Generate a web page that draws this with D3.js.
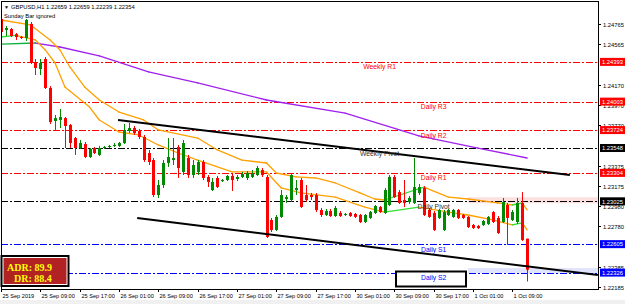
<!DOCTYPE html>
<html><head><meta charset="utf-8">
<script src="https://cdn.jsdelivr.net/npm/d3@7"></script>
<style>
body{margin:0;background:#fff;overflow:hidden}
svg{display:block;font-family:"Liberation Sans",Arial,sans-serif}
</style></head><body><div id="chart"></div>
<script>
'use strict'

// hourly bars, GBPUSD H1, 25 Sep 01:00 .. 1 Oct 12:00
const opens = [1.24814,1.24706,1.24716,1.24666,1.24637,1.24627,1.24765,1.24392,1.24323,1.24421,
1.24137,1.23813,1.23823,1.23842,1.23774,1.23646,1.23548,1.23587,1.23460,1.23548,
1.23480,1.23548,1.23558,1.23568,1.23568,1.23597,1.23715,1.23744,1.23715,1.23656,
1.23499,1.23430,1.23087,1.23185,1.23401,1.23430,1.23558,1.23313,1.23450,1.23283,
1.23313,1.23411,1.23264,1.23136,1.23254,1.23224,1.23234,1.23274,1.23244,1.23264,
1.23254,1.23264,1.23283,1.23332,1.23264,1.22842,1.22744,1.22872,1.23048,1.23038,
1.23136,1.23234,1.23087,1.23087,1.23087,1.22940,1.22891,1.22930,1.22881,1.22911,
1.22891,1.22911,1.22901,1.22891,1.22822,1.22862,1.22911,1.22969,1.22911,1.22989,
1.23264,1.23116,1.23038,1.23018,1.23009,1.23107,1.23156,1.22940,1.22911,1.22862,
1.22744,1.22891,1.22872,1.22940,1.22891,1.22872,1.22793,1.22783,1.22793,1.22803,
1.22920,1.22862,1.22822,1.22989,1.22842,1.22822,1.23009,1.22659]
const highs = [1.24833,1.24745,1.24725,1.24676,1.24647,1.24814,1.24784,1.24421,1.24421,1.24441,
1.24156,1.23872,1.23931,1.23852,1.23784,1.23656,1.23627,1.23607,1.23548,1.23558,
1.23568,1.23568,1.23578,1.23597,1.23607,1.23784,1.23793,1.23764,1.23735,1.23676,
1.23529,1.23450,1.23234,1.23430,1.23646,1.23646,1.23578,1.23627,1.23480,1.23430,
1.23430,1.23430,1.23283,1.23254,1.23274,1.23244,1.23283,1.23293,1.23283,1.23313,
1.23323,1.23332,1.23372,1.23352,1.23283,1.22862,1.22891,1.23136,1.23087,1.23303,
1.23234,1.23254,1.23185,1.23107,1.23107,1.22960,1.22950,1.22950,1.22979,1.22930,
1.22911,1.22920,1.22911,1.22901,1.22901,1.22930,1.22989,1.22979,1.23156,1.23283,
1.23283,1.23136,1.23234,1.23077,1.23450,1.23195,1.23175,1.22960,1.22930,1.22950,
1.22940,1.22950,1.22950,1.22950,1.22901,1.22881,1.22803,1.22793,1.22842,1.22881,
1.22930,1.22881,1.23058,1.23009,1.22940,1.23058,1.23116,1.22659]
const lows = [1.24666,1.24647,1.24637,1.24608,1.24617,1.24598,1.24372,1.24264,1.24264,1.24127,
1.23784,1.23725,1.23744,1.23548,1.23548,1.23480,1.23538,1.23450,1.23450,1.23489,
1.23470,1.23538,1.23548,1.23558,1.23558,1.23587,1.23695,1.23676,1.23636,1.23411,
1.23381,1.23067,1.23058,1.23156,1.23362,1.23381,1.23254,1.23283,1.23254,1.23254,
1.23283,1.23234,1.23165,1.23126,1.23156,1.23215,1.23224,1.23126,1.23224,1.23254,
1.23234,1.23254,1.23274,1.23264,1.22665,1.22724,1.22734,1.22862,1.23009,1.23018,
1.23087,1.22960,1.23018,1.23038,1.22920,1.22872,1.22881,1.22872,1.22872,1.22872,
1.22881,1.22872,1.22862,1.22812,1.22812,1.22852,1.22901,1.22911,1.22901,1.22979,
1.23058,1.22999,1.22969,1.22999,1.22999,1.23087,1.22881,1.22862,1.22734,1.22852,
1.22734,1.22881,1.22862,1.22852,1.22852,1.22763,1.22753,1.22753,1.22783,1.22793,
1.22812,1.22705,1.22812,1.22597,1.22832,1.22803,1.22636,1.22239]
const closes = [1.24686,1.24725,1.24647,1.24637,1.24632,1.24804,1.24382,1.24333,1.24382,1.24137,
1.23803,1.23842,1.23852,1.23764,1.23597,1.23548,1.23597,1.23460,1.23538,1.23499,
1.23548,1.23558,1.23568,1.23578,1.23597,1.23725,1.23744,1.23695,1.23656,1.23430,
1.23411,1.23087,1.23185,1.23401,1.23460,1.23450,1.23352,1.23597,1.23283,1.23381,
1.23411,1.23254,1.23215,1.23215,1.23165,1.23234,1.23274,1.23234,1.23264,1.23293,
1.23303,1.23293,1.23352,1.23283,1.22675,1.22744,1.22872,1.23087,1.23067,1.23283,
1.23156,1.22969,1.23038,1.23067,1.22940,1.22891,1.22930,1.22881,1.22960,1.22881,
1.22901,1.22881,1.22872,1.22822,1.22891,1.22920,1.22979,1.22920,1.23136,1.23264,
1.23067,1.23009,1.23009,1.23058,1.23165,1.23165,1.22891,1.22872,1.22744,1.22940,
1.22920,1.22940,1.22940,1.22862,1.22862,1.22773,1.22763,1.22763,1.22832,1.22872,
1.22822,1.22714,1.23018,1.22862,1.22920,1.23009,1.22646,1.22354]

// moving averages read at [bar, price]
const maSlow = [[0,1.24804],[6,1.24755],[10,1.24608],[12,1.24510],[14,1.24343],[17,1.24147],[20,1.24019],
[24,1.23901],[29,1.23823],[32,1.23725],[40,1.23646],[44,1.23529],[49,1.23430],[54,1.23401],[56,1.23303],
[60,1.23264],[64,1.23254],[68,1.23205],[73,1.23107],[76,1.23048],[78,1.23038],[86,1.23165],[91,1.23067],
[95,1.23048],[101,1.23009],[104,1.22989],[106,1.23009],[107,1.22940]]
const maFast = [[0,1.24637],[3,1.24652],[7,1.24608],[9,1.24510],[11,1.24382],[13,1.24147],[18,1.23950],
[20,1.23823],[24,1.23705],[28,1.23676],[32,1.23578],[36,1.23499],[40,1.23430],[47,1.23313],[54,1.23313],
[57,1.23156],[61,1.23107],[68,1.23067],[74,1.22969],[78,1.22920],[85,1.22969],[91,1.22920],[95,1.22891],
[100,1.22842],[104,1.22793],[106,1.22813],[107,1.22744]]
const maLong = [[0,1.24568],[7,1.24578],[12,1.24539],[20,1.24451],[30,1.24294],[40,1.24186],[54,1.24019],
[70,1.23891],[85,1.23666],[97,1.23548],[107,1.23450]]

// channel drawn on the chart
const channelTop = [[23.8,1.23823],[115.7,1.23283]]
const channelBottom = [[27.7,1.22862],[121.4,1.22302]]

// pivot levels
const levelNames = ['Weekly R1','Daily R3','Daily R2','Weekly Pivot','Daily R1','Daily Pivot','Daily S1','Daily S2']
const levelPrices = [1.24393,1.24003,1.23724,1.23548,1.23304,1.23025,1.22605,1.22326]
const levelColors = ['#ff0000','#ff0000','#ff0000','#000000','#ff0000','#000000','#0000ff','#0000ff']
const levelLabelBar = [77,88,88,77,88,88,88,88]

// price axis ticks; those sitting under a level box are not drawn
const priceTicks = [1.24765,1.24565,1.24170,1.23970,1.23770,1.23375,1.23175,1.22980,1.22780,1.22385,1.22185]
const timeLabels = ['25 Sep 2019','25 Sep 09:00','25 Sep 17:00','26 Sep 01:00','26 Sep 09:00','26 Sep 17:00',
'27 Sep 01:00','27 Sep 09:00','27 Sep 17:00','30 Sep 01:00','30 Sep 09:00','30 Sep 17:00','1 Oct 01:00','1 Oct 09:00']
const barsPerLabel = 8

const title = 'GBPUSD,H1  1.22659 1.22659 1.22239 1.22354'
const adrText = ['ADR: 89.9','DR: 88.4']

const W = 625, H = 304
const plot = {left: 1, top: 1, right: 598, bottom: 289}

const svg = d3.select('#chart').append('svg').attr('width', W).attr('height', H)
svg.append('rect').attr('width', W).attr('height', H).attr('fill', '#fff')
svg.append('rect').attr('x', 0).attr('y', 300).attr('width', W).attr('height', 4).attr('fill', '#f0f0f0')

const x = d3.scaleLinear().domain([0, 121.4]).range([1, 597.9])
const y = d3.scaleLinear().domain([1.22165, 1.25000]).range([289, 0])

svg.append('clipPath').attr('id', 'clip').append('rect')
	.attr('x', plot.left).attr('y', plot.top).attr('width', plot.right - plot.left).attr('height', plot.bottom - plot.top)
let g = svg.append('g').attr('clip-path', 'url(#clip)')

// highlight bands
let bandStart = 95
g.append('rect').attr('x', x(bandStart)).attr('y', y(1.23065)).attr('width', plot.right - x(bandStart))
	.attr('height', y(1.23005) - y(1.23065)).attr('fill', '#fde0e0')
g.append('rect').attr('x', x(bandStart)).attr('y', y(1.22370)).attr('width', plot.right - x(bandStart))
	.attr('height', y(1.22320) - y(1.22370)).attr('fill', '#dfe3fb')

// pivot lines
levelPrices.forEach(function(p, i){
	let yy = Math.round(y(p)) + 0.5
	g.append('line').attr('x1', plot.left).attr('x2', plot.right).attr('y1', yy).attr('y2', yy)
		.attr('stroke', levelColors[i]).attr('stroke-width', 1).attr('stroke-dasharray', '7,2,2,2')
})

// moving averages, green while rising
function drawMA(pts, downColor, upColor){
	for (let i = 1; i < pts.length; i++){
		let a = pts[i-1], b = pts[i]
		g.append('line').attr('x1', x(a[0])).attr('y1', y(a[1])).attr('x2', x(b[0])).attr('y2', y(b[1]))
			.attr('stroke', b[1] > a[1] ? upColor : downColor).attr('stroke-width', 1.3).attr('stroke-linecap', 'round')
	}
}
drawMA(maLong, '#a020f0', '#10b040')
drawMA(maSlow, '#ffa000', '#30e030')
drawMA(maFast, '#ffa000', '#30e030')

// candles
let bars = d3.range(opens.length)
bars.forEach(function(i){
	let up = closes[i] >= opens[i]
	let col = up ? '#008a00' : '#ff0000'
	let cx = Math.round(x(i)) + 0.5
	g.append('line').attr('x1', cx).attr('x2', cx).attr('y1', y(highs[i])).attr('y2', y(lows[i]))
		.attr('stroke', col).attr('stroke-width', 1)
	let top = y(Math.max(opens[i], closes[i])), bot = y(Math.min(opens[i], closes[i]))
	g.append('rect').attr('x', cx - 1.5).attr('y', top).attr('width', 3).attr('height', Math.max(1, bot - top))
		.attr('fill', col)
})

// trend channel
;[channelTop, channelBottom].forEach(function(c){
	g.append('line').attr('x1', x(c[0][0])).attr('y1', y(c[0][1])).attr('x2', x(c[1][0])).attr('y2', y(c[1][1]))
		.attr('stroke', '#000').attr('stroke-width', 2)
})

// level labels
levelNames.forEach(function(n, i){
	let cx = x(levelLabelBar[i])
	if (n == 'Daily S2'){
		g.append('rect').attr('x', 396).attr('y', 271.5).attr('width', 70).attr('height', 15)
			.attr('fill', '#fff').attr('stroke', '#000').attr('stroke-width', 2)
	}
	g.append('text').attr('x', cx).attr('y', y(levelPrices[i]) + 7.5).attr('text-anchor', 'middle')
		.attr('font-size', '6.8px').attr('fill', levelColors[i] == '#000000' ? '#303030' : levelColors[i]).text(n)
})

// frame
svg.append('line').attr('x1', 1.5).attr('x2', 1.5).attr('y1', 1).attr('y2', plot.bottom).attr('stroke', '#000')
svg.append('line').attr('x1', 1).attr('x2', plot.right).attr('y1', 1.5).attr('y2', 1.5).attr('stroke', '#000')
svg.append('line').attr('x1', 1).attr('x2', plot.right).attr('y1', plot.bottom + 0.5).attr('y2', plot.bottom + 0.5).attr('stroke', '#000')
svg.append('line').attr('x1', plot.right + 0.5).attr('x2', plot.right + 0.5).attr('y1', 1).attr('y2', plot.bottom + 1).attr('stroke', '#000')

// price axis
priceTicks.forEach(function(p){
	let yy = Math.round(y(p)) + 0.5
	svg.append('line').attr('x1', plot.right).attr('x2', plot.right + 3).attr('y1', yy).attr('y2', yy).attr('stroke', '#000')
	svg.append('text').attr('x', 603).attr('y', yy + 2).attr('font-size', '5.8px').attr('fill', '#000').text(p.toFixed(5))
})
levelPrices.forEach(function(p, i){
	let yy = y(p)
	let bg = levelColors[i] == '#000000' ? '#000' : levelColors[i]
	svg.append('rect').attr('x', 600).attr('y', yy - 4).attr('width', 25).attr('height', 8).attr('fill', bg)
	svg.append('text').attr('x', 602).attr('y', yy + 2.2).attr('font-size', '5.8px').attr('fill', '#fff').text(p.toFixed(5))
})

// time axis
timeLabels.forEach(function(t, k){
	let xx = Math.round(x(k * barsPerLabel)) + 0.5
	svg.append('line').attr('x1', xx).attr('x2', xx).attr('y1', plot.bottom).attr('y2', plot.bottom + 3).attr('stroke', '#000')
	svg.append('text').attr('x', xx + 1).attr('y', 297.5).attr('font-size', '5.6px').attr('fill', '#000').text(t)
})

// header
svg.append('text').attr('x', 4).attr('y', 8.5).attr('font-size', '5px').text('\u25BC')
svg.append('text').attr('x', 11).attr('y', 8.5).attr('font-size', '5.8px').attr('fill', '#000').text(title)
svg.append('text').attr('x', 4).attr('y', 17.5).attr('font-size', '5.8px').attr('fill', '#000').text('Sunday Bar ignored')

// ADR box
svg.append('rect').attr('x', 1.5).attr('y', 256).attr('width', 67).attr('height', 30).attr('fill', '#fff').attr('stroke', '#000').attr('stroke-width', 2)
svg.append('rect').attr('x', 3.5).attr('y', 258).attr('width', 63).attr('height', 26).attr('fill', '#b22222')
svg.append('text').attr('x', 7).attr('y', 271).attr('font-family', '"Liberation Serif",serif').attr('font-weight', 'bold')
	.attr('font-size', '10px').attr('fill', '#ffff00').text(adrText[0])
svg.append('text').attr('x', 14).attr('y', 282).attr('font-family', '"Liberation Serif",serif').attr('font-weight', 'bold')
	.attr('font-size', '10px').attr('fill', '#ffff00').text(adrText[1])
</script></body></html>
